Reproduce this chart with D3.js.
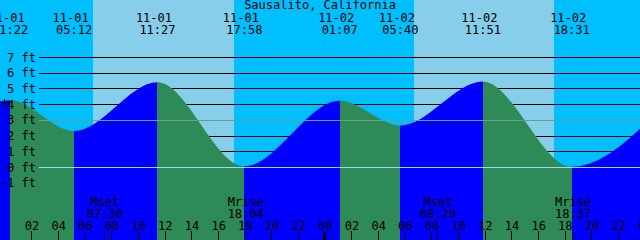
<!DOCTYPE html>
<html><head><meta charset="utf-8">
<script src="https://cdn.jsdelivr.net/npm/d3@7"></script>
<style>html,body{margin:0;padding:0;background:#00BFFF;overflow:hidden}svg{display:block}</style>
</head><body><svg id="c" width="640" height="240"></svg>
<script>
// ---- data (hours since 11-01 00:00) ----
const title = "Sausalito, California";
const tideTimes  = [-6.5, 0.4, 5.2, 11.45, 17.967, 25.117, 29.667, 35.85, 42.517, 49.8];
const tideLevels = [0.3, 4.28, 2.32, 5.43, 0.08, 4.25, 2.68, 5.48, 0.04, 4.3];
const tideDateLabels  = [null, "11-01", "11-01", "11-01", "11-01", "11-02", "11-02", "11-02", "11-02", null];
const tideClockLabels = [null, "01:22", "05:12", "11:27", "17:58", "01:07", "05:40", "11:51", "18:31", null];
const sunriseTimes = [6.615, 30.68];
const sunsetTimes  = [17.19, 41.19];
const moonTimes  = [7.5, 18.067, 32.483, 42.617];
const moonNames  = ["Mset", "Mrise", "Mset", "Mrise"];
const moonClock  = ["07:30", "18:04", "08:29", "18:37"];
const ftTicks = [-1, 0, 1, 2, 3, 4, 5, 6, 7];
const mslLevel = 3;
const datumLevel = 0;
const markTime = 0, markLevel = 4.2;
const hourTicks  = [2,4,6,8,10,12,14,16,18,20,22,24,26,28,30,32,34,36,38,40,42,44,46,48];
const hourLabels = ["02","04","06","08","10","12","14","16","18","20","22","00","02","04","06","08","10","12","14","16","18","20","22","00"];
const dayBoundaries = [24];

// ---- colours ----
const C = {night:"#00BFFF", day:"#87CEEB", rise:"#0000FF", fall:"#2E8B57", msl:"#64A08C", datum:"#96DCEB", text:"#000"};
const FONT = "'DejaVu Sans Mono', monospace";
const W = 640, H = 240;

const x = d3.scaleLinear().domain([0, 48]).range([4.8, 644.8]);
const y = d3.scaleLinear().domain([0, 7]).range([167.5, 57.5]);

const svg = d3.select("#c");
const defs = svg.append("defs");

// background
svg.append("rect").attr("width", W).attr("height", H).attr("fill", C.night);
svg.append("g").selectAll("rect").data(sunriseTimes).join("rect")
  .attr("x", d => x(d)).attr("y", 0)
  .attr("width", (d, i) => x(sunsetTimes[i]) - x(d)).attr("height", H)
  .attr("fill", C.day).attr("shape-rendering", "crispEdges");

// black level lines
const lineX0 = 39;
svg.append("g").selectAll("line").data(ftTicks.filter(v => v !== mslLevel && v !== datumLevel)).join("line")
  .attr("x1", lineX0).attr("x2", W)
  .attr("y1", d => y(d)).attr("y2", d => y(d))
  .attr("stroke", "#000").attr("stroke-width", 1).attr("shape-rendering", "crispEdges");

// water
const pts = tideTimes.map((t, i) => ({t, v: tideLevels[i]}));
const area = d3.area().x(d => x(d.t)).y0(H).y1(d => y(d.v)).curve(d3.curveMonotoneX);
defs.append("clipPath").attr("id", "water").append("path").attr("d", area(pts));
const segs = pts.slice(0, -1).map((d, i) => ({a: d, b: pts[i + 1]}));
svg.append("g").attr("clip-path", "url(#water)").selectAll("rect").data(segs).join("rect")
  .attr("x", d => x(d.a.t)).attr("y", 0)
  .attr("width", d => x(d.b.t) - x(d.a.t)).attr("height", H)
  .attr("fill", d => d.b.v > d.a.v ? C.rise : C.fall)
  .attr("shape-rendering", "crispEdges");

// msl & datum lines
[[mslLevel, C.msl], [datumLevel, C.datum]].forEach(([v, col]) => {
  svg.append("line").attr("x1", lineX0).attr("x2", W).attr("y1", y(v)).attr("y2", y(v))
    .attr("stroke", col).attr("stroke-width", 1).attr("shape-rendering", "crispEdges");
});

// ft labels
svg.append("g").selectAll("text").data(ftTicks).join("text")
  .attr("x", 36).attr("y", d => y(d) + 4)
  .attr("text-anchor", "end").attr("font-family", FONT).attr("font-size", 12).attr("fill", C.text)
  .text(d => d + " ft");

// mark
const mx = x(markTime), my = Math.round(y(markLevel)) + 0.5;
svg.append("path").attr("d", `M${mx - 4.3},${my}H${mx + 3.7}M${mx},${my - 4}V${my + 4}`)
  .attr("stroke", "#000").attr("stroke-width", 1).attr("fill", "none").attr("shape-rendering", "crispEdges");

// title
svg.append("text").attr("x", W / 2).attr("y", 9).attr("text-anchor", "middle")
  .attr("font-family", FONT).attr("font-size", 12).attr("fill", C.text).text(title);

// tide event labels
const ev = pts.map((d, i) => ({...d, date: tideDateLabels[i], clock: tideClockLabels[i]})).filter(d => d.date);
const evg = svg.append("g").attr("font-family", FONT).attr("font-size", 12).attr("fill", C.text).attr("text-anchor", "middle");
evg.selectAll("text.d").data(ev).join("text").attr("class", "d")
  .attr("x", d => x(d.t) - 3.5).attr("y", 21.7).text(d => d.date);
evg.selectAll("text.t").data(ev).join("text").attr("class", "t")
  .attr("x", d => x(d.t)).attr("y", 34.3).text(d => d.clock);

// moon labels
const mg = svg.append("g").attr("font-family", FONT).attr("font-size", 12).attr("fill", C.text).attr("text-anchor", "middle");
mg.selectAll("text.n").data(moonTimes).join("text").attr("class", "n")
  .attr("x", d => x(d)).attr("y", 206).text((d, i) => moonNames[i]);
mg.selectAll("text.c").data(moonTimes).join("text").attr("class", "c")
  .attr("x", d => x(d)).attr("y", 218.3).text((d, i) => moonClock[i]);

// hour axis
const axis = d3.axisTop(x).tickValues(hourTicks).tickSize(9).tickPadding(1)
  .tickFormat((d, i) => hourLabels[i]);
const ag = svg.append("g").attr("transform", `translate(0,${H})`).call(axis);
ag.select(".domain").remove();
ag.selectAll("text").attr("font-family", FONT).attr("font-size", 12).attr("fill", C.text).attr("dy", 0);
ag.selectAll("line").attr("stroke", "#000").attr("shape-rendering", "crispEdges");

// moon ticks
svg.append("g").selectAll("line").data(moonTimes).join("line")
  .attr("x1", d => x(d)).attr("x2", d => x(d)).attr("y1", H - 9).attr("y2", H)
  .attr("stroke", "#000").attr("shape-rendering", "crispEdges");
// day boundary
svg.append("g").selectAll("line").data(dayBoundaries).join("line")
  .attr("x1", d => x(d)).attr("x2", d => x(d)).attr("y1", H - 8).attr("y2", H)
  .attr("stroke", "#000").attr("stroke-width", 3).attr("shape-rendering", "crispEdges");
</script></body></html>
